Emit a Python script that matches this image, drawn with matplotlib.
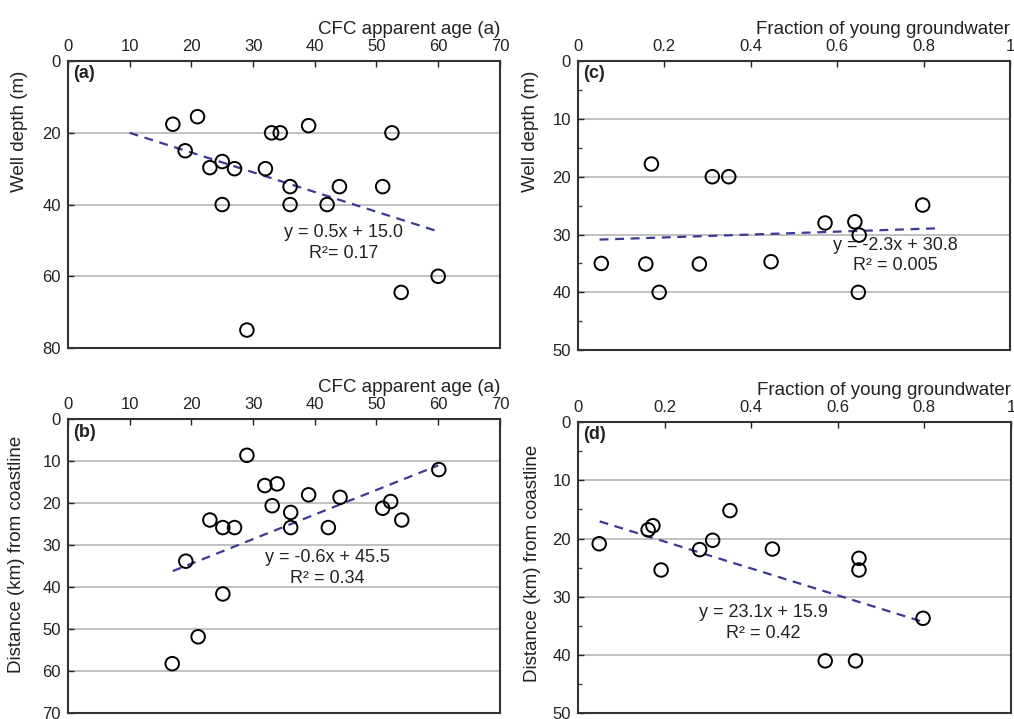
import numpy as np
import matplotlib
matplotlib.use('Agg')
import matplotlib.pyplot as plt
from matplotlib.ticker import MultipleLocator

plt.rcParams['font.family'] = ['Liberation Sans', 'DejaVu Sans']

# (a) CFC apparent age vs well depth
age_a = [17, 21, 19, 23, 25, 27, 25, 29, 32, 33, 34.4, 39, 36, 36, 42, 44, 51, 52.5, 60, 54]
depth_a = [17.6, 15.5, 25, 29.7, 28, 30, 40, 75, 30, 20, 20, 18, 35, 40, 40, 35, 35, 20, 60, 64.5]

# (b) CFC apparent age vs distance from coastline
age_b = [29, 31.9, 33.9, 33.1, 39, 44.1, 36.1, 36.1, 42.2, 23, 25.1, 27, 19.1, 25.1, 21.1, 16.9, 51, 52.3, 54.1, 60.1]
dist_b = [8.6, 15.8, 15.4, 20.6, 18, 18.6, 22.2, 25.8, 25.8, 24, 25.8, 25.8, 33.8, 41.6, 51.8, 58.2, 21.2, 19.6, 24, 12]

# (c) fraction of young groundwater vs well depth
frac_c = [0.054, 0.170, 0.157, 0.188, 0.281, 0.311, 0.349, 0.447, 0.572, 0.641, 0.651, 0.649, 0.798]
depth_c = [35, 17.8, 35.1, 40, 35.1, 20, 20, 34.7, 28, 27.8, 30.1, 40, 24.9]

# (d) fraction of young groundwater vs distance from coastline
frac_d = [0.049, 0.162, 0.173, 0.192, 0.281, 0.311, 0.351, 0.449, 0.571, 0.641, 0.649, 0.649, 0.797]
dist_d = [20.9, 18.5, 17.8, 25.4, 21.9, 20.3, 15.2, 21.8, 41.0, 41.0, 23.4, 25.4, 33.7]

# trend lines as drawn: slope, intercept, x range
fit_a = (0.55, 14.5, 10, 60)
fit_b = (-0.585, 46.1, 17, 60)
fit_c = (-2.5, 31.0, 0.05, 0.84)
fit_d = (23.1, 15.9, 0.05, 0.79)

eq_a = 'y = 0.5x + 15.0\nR²= 0.17'
eq_b = 'y = -0.6x + 45.5\nR² = 0.34'
eq_c = 'y = -2.3x + 30.8\nR² = 0.005'
eq_d = 'y = 23.1x + 15.9\nR² = 0.42'

fig = plt.figure(figsize=(10.14, 7.19), dpi=100)

panels = [
    # rect, x, y, fit, eq, eq pos, label, xlabel, ylabel, xlim, xstep, ylim, ystep, yminor, ylabel pos
    ([0.067, 0.516, 0.426, 0.399], age_a, depth_a, fit_a, eq_a, (44.7, 50.7), '(a)',
     'CFC apparent age (a)', 'Well depth (m)', 70, 10, 80, 20, None, (-0.113, 0.756)),
    ([0.067, 0.008, 0.426, 0.409], age_b, dist_b, fit_b, eq_b, (42.0, 35.4), '(b)',
     'CFC apparent age (a)', 'Distance (km) from coastline', 70, 10, 70, 10, None, (-0.12, 0.54)),
    ([0.570, 0.513, 0.426, 0.402], frac_c, depth_c, fit_c, eq_c, (0.735, 33.6), '(c)',
     'Fraction of young groundwater', 'Well depth (m)', 1, 0.2, 50, 10, 5, (-0.109, 0.758)),
    ([0.570, 0.008, 0.427, 0.405], frac_d, dist_d, fit_d, eq_d, (0.428, 34.5), '(d)',
     'Fraction of young groundwater', 'Distance (km) from coastline', 1, 0.2, 50, 10, 5, (-0.106, 0.515)),
]

for (rect, xs, ys, fit, eq, eqpos, lab, xlab, ylab, xmax, xstep, ymax, ystep, yminor, ylpos) in panels:
    ax = fig.add_axes(rect)
    ax.set_xlim(0, xmax)
    ax.set_ylim(ymax, 0)
    ax.xaxis.set_major_locator(MultipleLocator(xstep))
    ax.yaxis.set_major_locator(MultipleLocator(ystep))
    if yminor:
        ax.yaxis.set_minor_locator(MultipleLocator(yminor))
    ax.xaxis.tick_top()
    ax.xaxis.set_label_position('top')
    ax.tick_params(direction='in', length=4, width=1, labelsize=12, colors='#222222', pad=5)
    ax.tick_params(which='minor', direction='in', length=3, width=1, colors='#444444')
    ax.xaxis.set_major_formatter(plt.FuncFormatter(lambda v, p: f'{v:g}'))
    ax.yaxis.set_major_formatter(plt.FuncFormatter(lambda v, p: f'{v:g}'))
    for s in ax.spines.values():
        s.set_linewidth(1.5)
        s.set_color('#333333')
    ax.yaxis.grid(True, color='#b5b5b5', linewidth=1.2)
    ax.set_axisbelow(True)

    ax.scatter(xs, ys, s=95, facecolors='none', edgecolors='black', linewidths=1.4, zorder=3)
    slope, icpt, x0, x1 = fit
    fx = np.array([x0, x1])
    ax.plot(fx, slope * fx + icpt, linestyle=(0, (4, 3)), color='#3a3a96', linewidth=1.6, zorder=2)

    ax.text(eqpos[0], eqpos[1], eq, ha='center', va='center', fontsize=13,
            color='#222222', linespacing=1.25, zorder=4)
    ax.text(0.012, 0.985, lab, transform=ax.transAxes, ha='left', va='top',
            fontsize=13, fontweight='bold', color='#222222')

    ax.set_xlabel(xlab, loc='right', fontsize=13.5, color='#222222', labelpad=4)
    ax.set_ylabel(ylab, fontsize=13.5, color='#222222', va='center')
    ax.yaxis.set_label_coords(*ylpos)

fig.savefig('out.png', dpi=100)
